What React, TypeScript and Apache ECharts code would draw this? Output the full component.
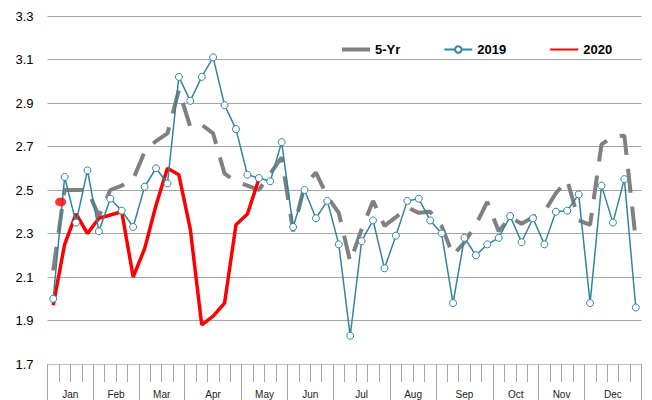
import React, { useEffect, useRef } from "react";
import * as echarts from "echarts";

const monthNames = ["Jan", "Feb", "Mar", "Apr", "May", "Jun", "Jul", "Aug", "Sep", "Oct", "Nov", "Dec"];
const monthWeeks = [4, 4, 4, 5, 4, 4, 5, 4, 5, 4, 4, 5];

const fiveYr = [
  2.13, 2.5, 2.5, 2.5, 2.38, 2.5, 2.52, 2.55, 2.675, 2.725, 2.76, 2.96, 2.79, 2.8, 2.76, 2.575,
  2.54, 2.52, 2.5, 2.575, 2.65, 2.31, 2.52, 2.58, 2.47, 2.395, 2.17, 2.32, 2.45, 2.335, 2.375,
  2.42, 2.395, 2.4, 2.335, 2.2, 2.26, 2.34, 2.445, 2.31, 2.375, 2.345, 2.375, 2.4, 2.485, 2.545,
  2.36, 2.34, 2.71, 2.745, 2.75, 2.27,
];

const y2019 = [
  2.0, 2.56, 2.35, 2.59, 2.31, 2.46, 2.405, 2.33, 2.515, 2.6, 2.53, 3.02, 2.91, 3.02, 3.11, 2.89,
  2.78, 2.57, 2.555, 2.54, 2.72, 2.33, 2.5, 2.37, 2.45, 2.25, 1.83, 2.265, 2.36, 2.14, 2.29, 2.45,
  2.46, 2.36, 2.3, 1.98, 2.28, 2.2, 2.25, 2.28, 2.38, 2.26, 2.37, 2.25, 2.4, 2.405, 2.48, 1.98,
  2.52, 2.35, 2.55, 1.96,
];

const y2020 = [
  1.97, 2.25, 2.39, 2.3, 2.37, 2.385, 2.4, 2.1, 2.23, 2.43, 2.6, 2.57, 2.32, 1.88, 1.92, 1.98,
  2.34, 2.39, 2.55,
];

const dotWeek = 1;
const dotValue = 2.445;

const yMin = 1.7;
const yMax = 3.3;
const yStep = 0.2;

export default function App() {
  const ref = useRef<HTMLDivElement>(null);

  useEffect(() => {
    if (!ref.current) return;
    const chart = echarts.init(ref.current, undefined, { renderer: "svg" });

    const weekCats: string[] = [];
    monthNames.forEach((m, i) => {
      for (let k = 0; k < monthWeeks[i]; k++) weekCats.push(`${m} W${k + 1}`);
    });
    const cum: number[] = [0];
    monthWeeks.forEach((w) => cum.push(cum[cum.length - 1] + w));
    const totalHalves = cum[cum.length - 1] * 2;
    const boundarySet = new Set(cum.map((c) => c * 2));
    const centerMap: Record<number, string> = {};
    monthNames.forEach((m, i) => {
      centerMap[cum[i] + cum[i + 1]] = m;
    });
    const halfCats = Array.from({ length: totalHalves + 1 }, (_, h) => `h${h}`);

    const font = "'Liberation Sans', Arial, sans-serif";
    const teal = "#31859C";

    chart.setOption({
      animation: false,
      backgroundColor: "#ffffff",
      grid: { left: 47.5, right: 10.5, top: 16, bottom: 36, containLabel: false },
      legend: {
        top: 38,
        left: 335,
        itemWidth: 28,
        itemHeight: 8,
        itemGap: 43,
        textStyle: { fontFamily: font, fontSize: 13, fontWeight: "bold", color: "#000" },
        data: [
          { name: "5-Yr", lineStyle: { type: "solid", width: 4 }, itemStyle: { opacity: 0 } },
          { name: "2019" },
          { name: "2020", itemStyle: { opacity: 0 } },
        ],
      },
      xAxis: [
        {
          type: "category",
          data: weekCats,
          boundaryGap: true,
          position: "bottom",
          axisLine: { show: true, lineStyle: { color: "#bfbfbf", width: 1 } },
          axisTick: { show: true, interval: 0, length: 18, lineStyle: { color: "#a6a6a6" } },
          axisLabel: { show: false },
          splitLine: { show: false },
        },
        {
          type: "category",
          data: halfCats,
          boundaryGap: false,
          position: "bottom",
          axisLine: { show: false },
          axisTick: {
            show: true,
            interval: (idx: number) => boundarySet.has(idx),
            length: 40,
            lineStyle: { color: "#a6a6a6" },
          },
          axisLabel: {
            show: true,
            interval: 0,
            margin: 25,
            fontFamily: font,
            fontSize: 10,
            color: "#222",
            formatter: (_v: string, idx: number) => centerMap[idx] ?? "",
          },
          splitLine: { show: false },
        },
      ],
      yAxis: {
        type: "value",
        min: yMin,
        max: yMax,
        interval: yStep,
        axisLine: { show: false },
        axisTick: { show: false },
        axisLabel: {
          margin: 14,
          fontFamily: font,
          fontSize: 13,
          color: "#000",
          formatter: (v: number) => v.toFixed(1),
        },
        splitLine: { show: true, lineStyle: { color: "#a6a6a6", width: 1 } },
      },
      series: [
        {
          name: "5-Yr",
          type: "line",
          xAxisIndex: 0,
          data: fiveYr,
          symbol: "none",
          z: 1,
          lineStyle: { color: "#808080", width: 4, type: [24, 14], cap: "butt" },
          itemStyle: { color: "#808080" },
        },
        {
          name: "2020",
          type: "line",
          xAxisIndex: 0,
          data: y2020,
          symbol: "none",
          z: 2,
          lineStyle: { color: "#ff0000", width: 3.5 },
          itemStyle: { color: "#ff0000" },
        },
        {
          name: "2019",
          type: "line",
          xAxisIndex: 0,
          data: y2019,
          symbol: "circle",
          symbolSize: 7,
          z: 3,
          lineStyle: { color: teal, width: 1.5 },
          itemStyle: { color: "#ffffff", borderColor: teal, borderWidth: 1 },
        },
        {
          name: "latest",
          type: "scatter",
          xAxisIndex: 0,
          data: [[dotWeek, dotValue]],
          symbol: "circle",
          symbolSize: [11, 9],
          symbolOffset: [-4, 0],
          z: 4,
          itemStyle: { color: "#ff0000" },
        },
      ],
    });

    return () => chart.dispose();
  }, []);

  return (
    <div
      ref={ref}
      style={{ position: "fixed", left: 0, top: 0, width: 652, height: 400, background: "#fff" }}
    />
  );
}
